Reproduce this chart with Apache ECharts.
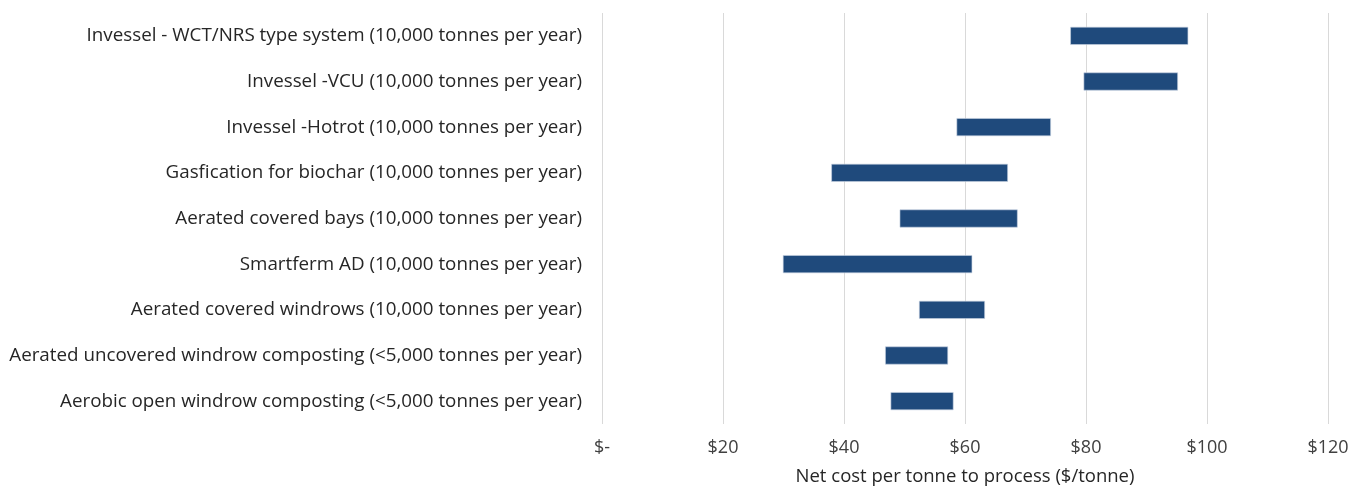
<!DOCTYPE html>
<html><head><meta charset="utf-8">
<script src="https://cdn.jsdelivr.net/npm/echarts@6/dist/echarts.min.js"></script>
<style>html,body{margin:0;padding:0;background:#fff}#c{width:1361px;height:491px}</style>
</head><body><div id="c"></div>
<script>
var categories = [
  "Invessel - WCT/NRS type system (10,000 tonnes per year)",
  "Invessel -VCU (10,000 tonnes per year)",
  "Invessel -Hotrot (10,000 tonnes per year)",
  "Gasfication for biochar (10,000 tonnes per year)",
  "Aerated covered bays (10,000 tonnes per year)",
  "Smartferm AD (10,000 tonnes per year)",
  "Aerated covered windrows (10,000 tonnes per year)",
  "Aerated uncovered windrow composting (<5,000 tonnes per year)",
  "Aerobic open windrow composting (<5,000 tonnes per year)"
];
var lowCost  = [77.4, 79.6, 58.6, 37.9, 49.2, 29.9, 52.4, 46.8, 47.7];
var highCost = [96.9, 95.2, 74.2, 67.1, 68.7, 61.2, 63.3, 57.2, 58.1];
var xTicks = [0, 20, 40, 60, 80, 100, 120];
var xTitle = "Net cost per tonne to process ($/tonne)";

var rangeVals = highCost.map(function(h, i){ return +(h - lowCost[i]).toFixed(2); });
var font = "'Open Sans', 'Noto Sans', sans-serif";
var chart = echarts.init(document.getElementById('c'), null, {renderer:'canvas'});
chart.setOption({
  animation: false,
  grid: {left: 602, right: 33, top: 13, bottom: 63, containLabel: false},
  xAxis: {
    type: 'value', min: 0, max: 120, interval: 20,
    axisLine: {show: false}, axisTick: {show: false},
    splitLine: {show: true, lineStyle: {color: '#d9d9d9', width: 1}},
    axisLabel: {color: '#404040', fontFamily: font, fontSize: 18, margin: 15,
      formatter: function(v){ return v === 0 ? '$-' : '$' + v; }},
    name: xTitle, nameLocation: 'middle', nameGap: 43,
    nameTextStyle: {color: '#262626', fontFamily: font, fontSize: 18.5}
  },
  yAxis: {
    type: 'category', data: categories, inverse: true,
    axisLine: {show: false}, axisTick: {show: false},
    axisLabel: {color: '#262626', fontFamily: font, fontSize: 18.8, margin: 20}
  },
  series: [
    {type: 'bar', stack: 'r', data: lowCost, itemStyle: {color: 'transparent'}, barWidth: 18, silent: true},
    {type: 'bar', stack: 'r', data: rangeVals, barWidth: 18,
     itemStyle: {color: '#1f4a7c', borderColor: '#c9d3e2', borderWidth: 0.6}}
  ]
});
</script></body></html>
